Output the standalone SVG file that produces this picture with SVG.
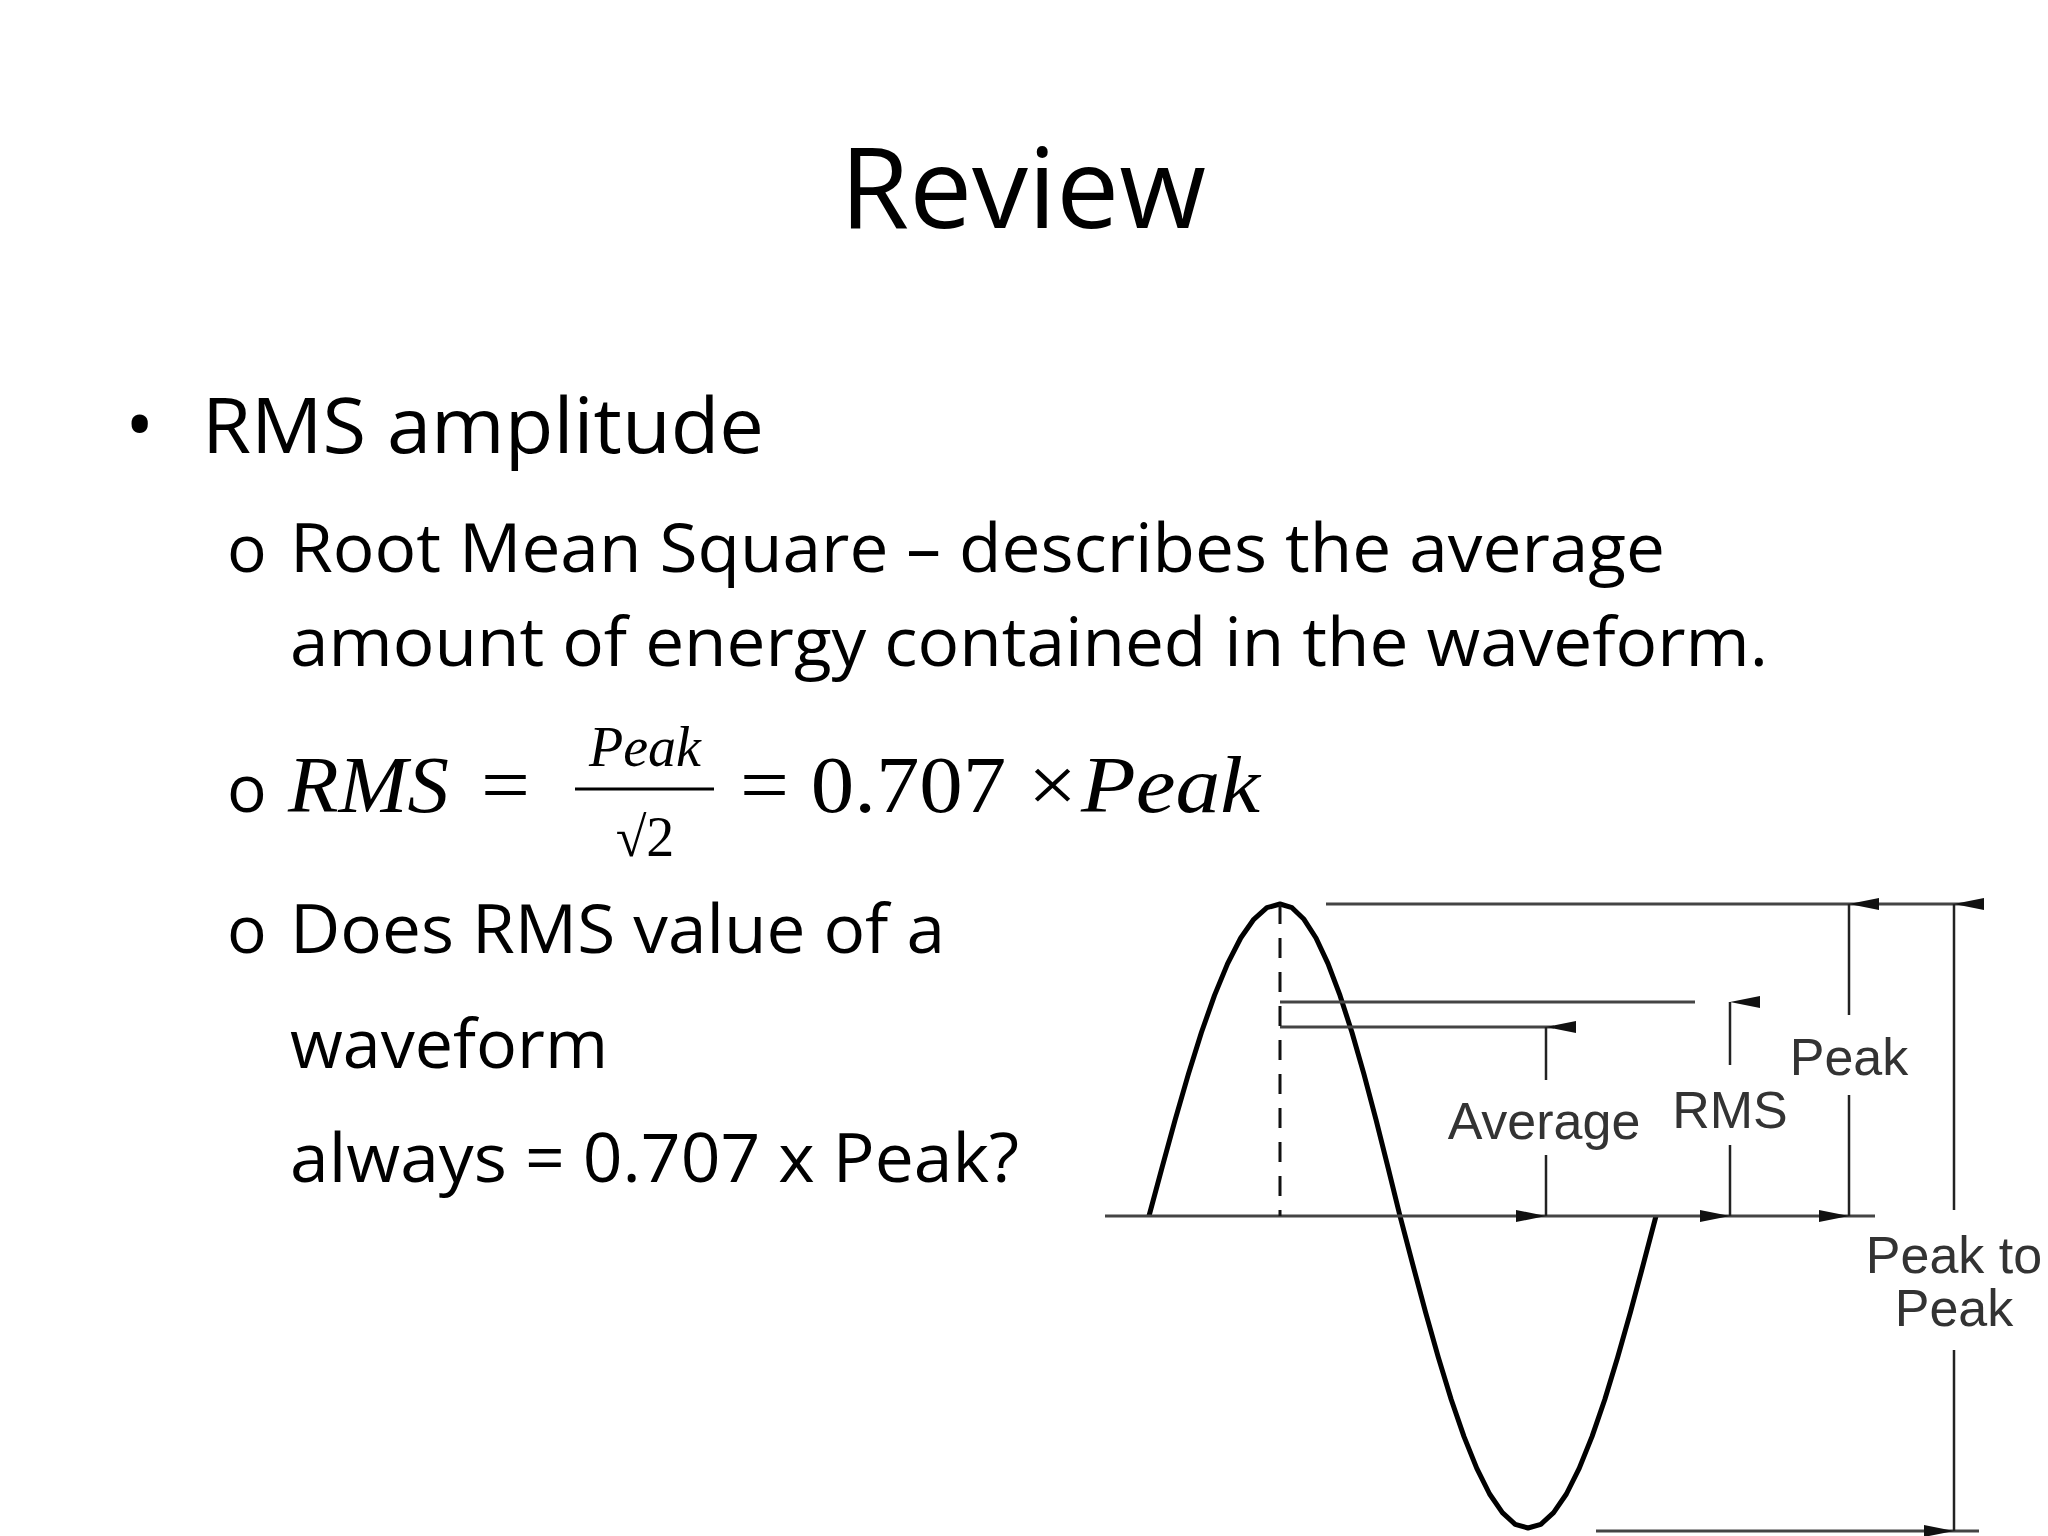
<svg xmlns="http://www.w3.org/2000/svg" width="2048" height="1536" viewBox="0 0 2048 1536">
<defs>
<style>
.t{font-family:"Open Sans","Noto Sans",sans-serif;fill:#000}
.m{font-family:"Liberation Serif",serif;fill:#000}
.d{font-family:"Liberation Sans",Arial,sans-serif;fill:#333;font-size:52px;text-anchor:middle}
.ln{stroke:#444;stroke-width:3;fill:none}
.ar{stroke:#222;stroke-width:2.5;fill:none}
</style>
<marker id="ah" viewBox="0 0 12 30" refX="6" refY="0" markerWidth="12" markerHeight="30" markerUnits="userSpaceOnUse" orient="auto-start-reverse">
<path d="M0,30 L6,0 L12,30 Z" fill="#111"/>
</marker>
</defs>
<rect width="2048" height="1536" fill="#fff"/>
<g id="text">
<text class="t" x="1023" y="228" font-size="112" text-anchor="middle">Review</text>
<text class="t" x="125" y="453" font-size="78">•</text>
<text class="t" x="202" y="453" font-size="76" textLength="562" lengthAdjust="spacingAndGlyphs">RMS amplitude</text>
<text class="t" x="227" y="572" font-size="66">o</text>
<text class="t" x="290" y="572" font-size="68" textLength="1375" lengthAdjust="spacingAndGlyphs">Root Mean Square – describes the average</text>
<text class="t" x="290" y="666" font-size="68" textLength="1478" lengthAdjust="spacingAndGlyphs">amount of energy contained in the waveform.</text>
<text class="t" x="227" y="812" font-size="66">o</text>
<text class="m" x="288" y="812" font-size="80" font-style="italic" textLength="161" lengthAdjust="spacingAndGlyphs">RMS</text>
<text class="m" x="481" y="812" font-size="80" textLength="49" lengthAdjust="spacingAndGlyphs">=</text>
<text class="m" x="645" y="766" font-size="56" font-style="italic" text-anchor="middle">Peak</text>
<line x1="575" y1="789" x2="714" y2="789" stroke="#000" stroke-width="3"/>
<text class="m" x="645" y="856" font-size="56" text-anchor="middle">√2</text>
<text class="m" x="740" y="812" font-size="80" textLength="337" lengthAdjust="spacingAndGlyphs">= 0.707 ×</text>
<text class="m" x="1081" y="812" font-size="80" font-style="italic" textLength="179" lengthAdjust="spacingAndGlyphs">Peak</text>
<text class="t" x="227" y="953" font-size="66">o</text>
<text class="t" x="290" y="953" font-size="68" textLength="655" lengthAdjust="spacingAndGlyphs">Does RMS value of a</text>
<text class="t" x="290" y="1068" font-size="68" textLength="318" lengthAdjust="spacingAndGlyphs">waveform</text>
<text class="t" x="290" y="1182" font-size="68" textLength="729" lengthAdjust="spacingAndGlyphs">always = 0.707 x Peak?</text>
</g>
<g id="waveform">
<polyline fill="none" stroke="#000" stroke-width="5" stroke-linejoin="round" points="1149,1216 1162.1,1167.3 1175.2,1119.6 1188.3,1074.4 1201.4,1032.5 1214.5,995.4 1227.6,963.6 1240.7,938 1253.8,919.3 1266.9,907.7 1280,904 1292,907.7 1304,919.3 1316,938 1328,963.6 1340,995.4 1352,1032.5 1364,1074.4 1376,1119.6 1388,1167.3 1400,1216 1412.8,1264.7 1425.6,1312.4 1438.4,1357.6 1451.2,1399.5 1464,1436.6 1476.8,1468.4 1489.6,1494 1502.4,1512.7 1515.2,1524.3 1528,1528 1540.8,1524.3 1553.6,1512.7 1566.4,1494 1579.2,1468.4 1592,1436.6 1604.8,1399.5 1617.6,1357.6 1630.4,1312.4 1643.2,1264.7 1656,1216"/>
<line class="ln" x1="1105" y1="1216" x2="1875" y2="1216"/>
<line class="ln" x1="1326" y1="904" x2="1981" y2="904" stroke="#111"/>
<line class="ln" x1="1596" y1="1531" x2="1979" y2="1531"/>
<line class="ln" x1="1280" y1="1002" x2="1695" y2="1002"/>
<line class="ln" x1="1280" y1="1027" x2="1554" y2="1027"/>
<line x1="1280" y1="904" x2="1280" y2="1216" stroke="#111" stroke-width="3" stroke-dasharray="20,14"/>
</g>
<g id="connectors">
<line class="ar" x1="1546" y1="1027" x2="1546" y2="1080" marker-start="url(#ah)"/>
<line class="ar" x1="1546" y1="1155" x2="1546" y2="1216" marker-end="url(#ah)"/>
<line class="ar" x1="1730" y1="1002" x2="1730" y2="1065" marker-start="url(#ah)"/>
<line class="ar" x1="1730" y1="1145" x2="1730" y2="1216" marker-end="url(#ah)"/>
<line class="ar" x1="1849" y1="904" x2="1849" y2="1015" marker-start="url(#ah)"/>
<line class="ar" x1="1849" y1="1095" x2="1849" y2="1216" marker-end="url(#ah)"/>
<line class="ar" x1="1954" y1="904" x2="1954" y2="1210" marker-start="url(#ah)"/>
<line class="ar" x1="1954" y1="1350" x2="1954" y2="1531" marker-end="url(#ah)"/>
</g>
<g id="labels">
<text class="d" x="1544" y="1139">Average</text>
<text class="d" x="1730" y="1128">RMS</text>
<text class="d" x="1849" y="1075">Peak</text>
<text class="d" x="1954" y="1273">Peak to</text>
<text class="d" x="1954" y="1326">Peak</text>
</g>
</svg>
